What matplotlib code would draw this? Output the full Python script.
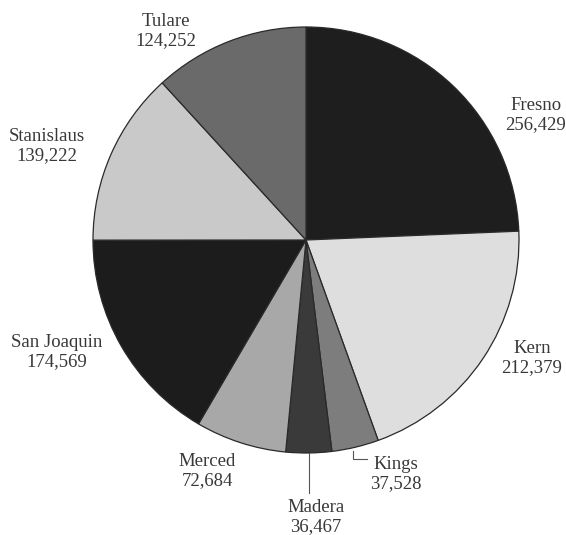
import matplotlib.pyplot as plt
import numpy as np

plt.rcParams['font.family'] = ['Liberation Serif', 'DejaVu Serif']

# county populations
counties = ['Fresno', 'Kern', 'Kings', 'Madera', 'Merced', 'San Joaquin', 'Stanislaus', 'Tulare']
values = [256429, 212379, 37528, 36467, 72684, 174569, 139222, 124252]
colors = ['#1e1e1e', '#dedede', '#7d7d7d', '#3a3a3a', '#a8a8a8', '#1c1c1c', '#c9c9c9', '#6a6a6a']

# label centres in pixels of the 566x535 image
label_px = [(536, 115), (532, 358), (396, 474), (316, 517), (207, 471),
            (57, 352), (47, 146), (166, 31)]

W, H = 566, 535
cx, cy, r = 306, 240, 213

fig = plt.figure(figsize=(W / 100, H / 100), dpi=100)
ax = fig.add_axes([(cx - r) / W, (H - cy - r) / H, 2 * r / W, 2 * r / H])

wedges, _ = ax.pie(values, colors=colors, startangle=90, counterclock=False,
                   wedgeprops=dict(edgecolor='#2a2a2a', linewidth=0.9))
ax.set_xlim(-1, 1)
ax.set_ylim(-1, 1)
ax.set_aspect('equal')
ax.axis('off')

def px2data(px, py):
    return (px - cx) / r, (cy - py) / r

for name, val, (px, py) in zip(counties, values, label_px):
    x, y = px2data(px, py)
    ax.text(x, y, f"{name}\n{val:,}", ha='center', va='center', fontsize=13.5,
            color='#383838', linespacing=1.2, clip_on=False)

# leader lines for the two small slices
for w, name in zip(wedges, counties):
    mid = np.deg2rad((w.theta1 + w.theta2) / 2)
    ex, ey = np.cos(mid), np.sin(mid)
    if name == 'Madera':
        _, ly = px2data(0, 493)
        ax.plot([ex, ex], [ey, ly], color='#555555', lw=0.8, clip_on=False)
    elif name == 'Kings':
        _, ly = px2data(0, 459)
        lx, _ = px2data(367, 0)
        ax.plot([ex - 0.01, ex - 0.01, lx], [ey - 0.02, ly, ly], color='#555555', lw=0.8, clip_on=False)

fig.savefig('out.png', dpi=100)
